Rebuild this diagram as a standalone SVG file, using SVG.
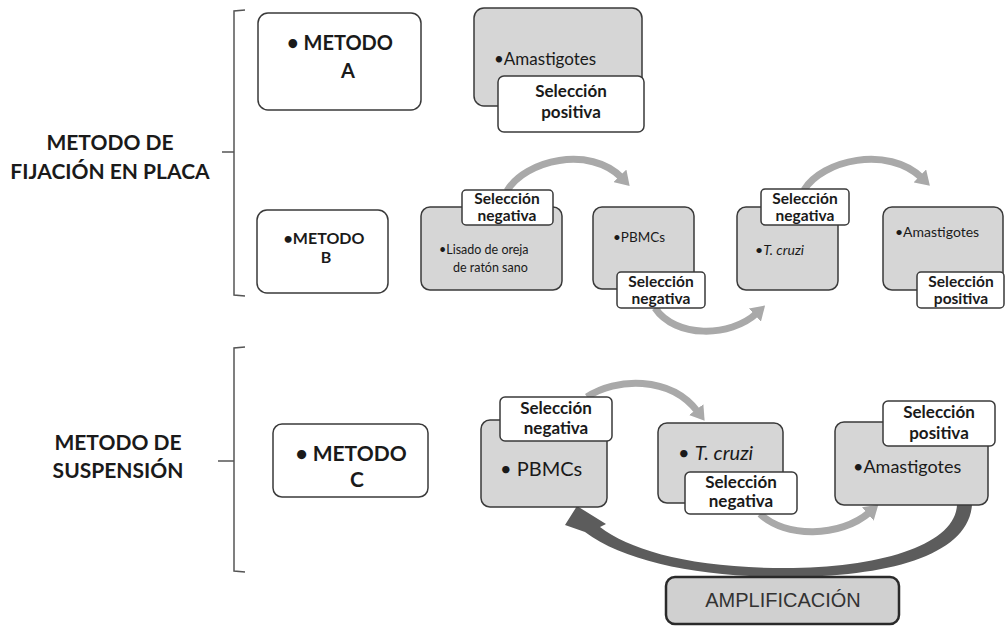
<svg xmlns="http://www.w3.org/2000/svg" width="1005" height="626" viewBox="0 0 1005 626">
<defs>
<style>
.w{fill:#ffffff;stroke:#3a3a3a;stroke-width:1.5}
.g{fill:#d6d6d6;stroke:#3a3a3a;stroke-width:1.5}
.br{fill:none;stroke:#555;stroke-width:1.5}
.arc{fill:none;stroke:#a9a9a9;stroke-width:7}
.t{font-family:Lato,"Liberation Sans",sans-serif;fill:#1a1a1a}
.b{font-weight:bold}
.big{font-family:Lato,"Liberation Sans",sans-serif;font-weight:bold;font-size:21px;fill:#1a1a1a;text-anchor:middle}
.lab{font-family:Lato,"Liberation Sans",sans-serif;font-weight:bold;font-size:17px;fill:#1a1a1a;text-anchor:middle}
.lbs{font-family:Lato,"Liberation Sans",sans-serif;font-weight:bold;font-size:15.5px;fill:#1a1a1a;text-anchor:middle}
</style>
<marker id="ah" viewBox="0 0 14 18" markerWidth="14" markerHeight="18" refX="3" refY="9" orient="auto" markerUnits="userSpaceOnUse">
<path d="M0,0 L14,9 L0,18 z" fill="#a9a9a9"/>
</marker>
</defs>
<rect width="1005" height="626" fill="#ffffff"/>

<g id="brackets">
<path class="br" d="M245,10 L234,11 L234,295 L245,296 M222,152 L234,152"/>
<path class="br" d="M245,347 L234,348 L234,571 L245,572 M218,461 L234,461"/>
</g>
<g id="title-placa">
<text class="big" x="110" y="150">METODO DE</text>
<text class="big" x="110" y="179">FIJACIÓN EN PLACA</text>
</g>
<g id="title-suspension">
<text class="big" x="118" y="450">METODO DE</text>
<text class="big" x="118" y="478">SUSPENSIÓN</text>
</g>

<g id="connectors">
<path class="arc" d="M507,191 C525,160 590,145 622,178" marker-end="url(#ah)"/>
<path class="arc" d="M655,308 C675,338 730,338 757,313" marker-end="url(#ah)"/>
<path class="arc" d="M804,190 C822,160 888,145 922,178" marker-end="url(#ah)"/>
<path class="arc" d="M587,397 C615,378 670,375 698,412" marker-end="url(#ah)"/>
<path class="arc" d="M760,514 C785,538 840,538 870,512" marker-end="url(#ah)"/>
<path d="M957,505 C955,545 880,568 785,568 C690,568 630,550 600,527 L606,524 L577,506 L565,525 L585,532 C625,562 700,577 785,577 C890,577 968,555 972,505 Z" fill="#5c5c5c"/>
</g>

<g id="metodo-a">
<rect class="w" x="258" y="13" width="163" height="97" rx="10"/>
<text class="t b" x="340" y="50" font-size="20" text-anchor="middle">• METODO</text>
<text class="t b" x="348" y="78" font-size="20" text-anchor="middle">A</text>
</g>
<g id="amastigotes-a">
<rect class="g" x="474" y="8" width="168" height="98" rx="10"/>
<text class="t" x="494" y="65" font-size="17">•Amastigotes</text>
</g>
<g id="sel-pos-a">
<rect class="w" x="498" y="76" width="146" height="56" rx="6"/>
<text class="lab" x="571" y="97">Selección</text>
<text class="lab" x="571" y="118">positiva</text>
</g>

<g id="metodo-b">
<rect class="w" x="257" y="210" width="131" height="83" rx="10"/>
<text class="t b" x="324" y="244" font-size="16" text-anchor="middle">•METODO</text>
<text class="t b" x="326" y="263" font-size="16" text-anchor="middle">B</text>
</g>
<g id="lisado">
<rect class="g" x="421" y="207" width="141" height="83" rx="9"/>
<text class="t" x="439" y="254" font-size="12.5">•Lisado de oreja</text>
<text class="t" x="453" y="272" font-size="12.5">de ratón sano</text>
</g>
<g id="sel-neg-b1">
<rect class="w" x="462" y="190" width="91" height="35" rx="4"/>
<text class="lbs" x="507" y="204">Selección</text>
<text class="lbs" x="507" y="221">negativa</text>
</g>
<g id="pbmcs-b">
<rect class="g" x="593" y="207" width="101" height="82" rx="9"/>
<text class="t" x="613" y="242" font-size="13.5">•PBMCs</text>
</g>
<g id="sel-neg-b2">
<rect class="w" x="617" y="272" width="88" height="36" rx="4"/>
<text class="lbs" x="661" y="287">Selección</text>
<text class="lbs" x="661" y="304">negativa</text>
</g>
<g id="tcruzi-b">
<rect class="g" x="737" y="207" width="101" height="83" rx="9"/>
<text class="t" x="755" y="255" font-size="14">•<tspan font-style="italic">T. cruzi</tspan></text>
</g>
<g id="sel-neg-b3">
<rect class="w" x="761" y="189" width="88" height="36" rx="4"/>
<text class="lbs" x="805" y="204">Selección</text>
<text class="lbs" x="805" y="221">negativa</text>
</g>
<g id="amastigotes-b">
<rect class="g" x="883" y="207" width="120" height="83" rx="9"/>
<text class="t" x="895" y="237" font-size="14">•Amastigotes</text>
</g>
<g id="sel-pos-b">
<rect class="w" x="917" y="272" width="87" height="36" rx="4"/>
<text class="lbs" x="961" y="287">Selección</text>
<text class="lbs" x="961" y="304">positiva</text>
</g>

<g id="metodo-c">
<rect class="w" x="273" y="424" width="155" height="73" rx="9"/>
<text class="t b" x="351" y="461" font-size="21" text-anchor="middle">• METODO</text>
<text class="t b" x="357" y="487" font-size="21" text-anchor="middle">C</text>
</g>
<g id="pbmcs-c">
<rect class="g" x="481" y="420" width="126" height="87" rx="9"/>
<text class="t" x="500" y="476" font-size="20">• PBMCs</text>
</g>
<g id="sel-neg-c1">
<rect class="w" x="500" y="397" width="112" height="44" rx="5"/>
<text class="lab" x="556" y="414">Selección</text>
<text class="lab" x="556" y="434">negativa</text>
</g>
<g id="tcruzi-c">
<rect class="g" x="658" y="423" width="125" height="80" rx="9"/>
<text class="t" x="678" y="460" font-size="20">• <tspan font-style="italic">T. cruzi</tspan></text>
</g>
<g id="sel-neg-c2">
<rect class="w" x="685" y="472" width="112" height="42" rx="5"/>
<text class="lab" x="741" y="488">Selección</text>
<text class="lab" x="741" y="507">negativa</text>
</g>
<g id="amastigotes-c">
<rect class="g" x="835" y="422" width="153" height="83" rx="9"/>
<text class="t" x="853" y="473" font-size="18">•Amastigotes</text>
</g>
<g id="sel-pos-c">
<rect class="w" x="883" y="401" width="112" height="45" rx="5"/>
<text class="lab" x="939" y="418">Selección</text>
<text class="lab" x="939" y="439">positiva</text>
</g>
<g id="amplificacion">
<rect x="666" y="577" width="233" height="47" rx="9" fill="#d0d0d0" stroke="#2a2a2a" stroke-width="2.5"/>
<text x="783" y="607" font-family="'Liberation Sans',sans-serif" font-size="20" fill="#333" text-anchor="middle">AMPLIFICACIÓN</text>
</g>
</svg>
